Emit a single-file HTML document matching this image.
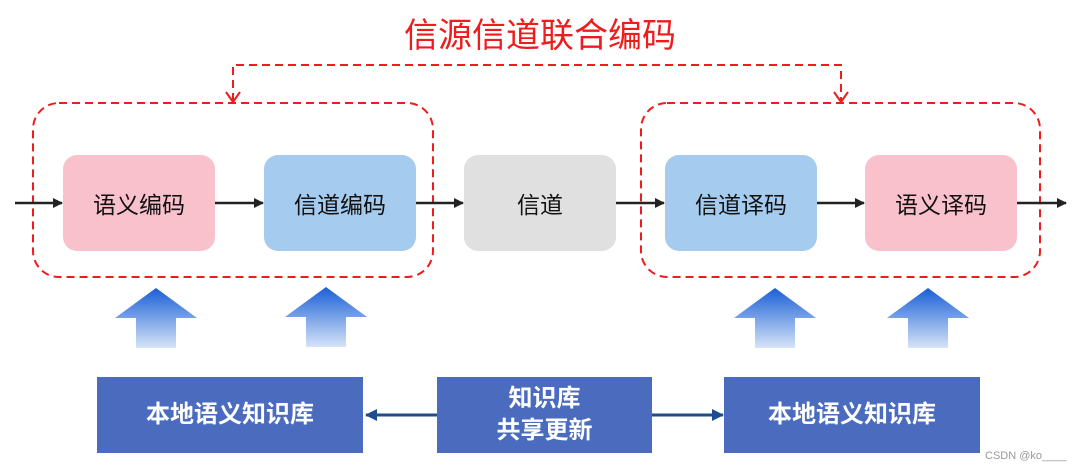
<!DOCTYPE html>
<html><head><meta charset="utf-8"><style>
body{margin:0;background:#fff;width:1080px;height:471px;overflow:hidden;position:relative;font-family:"Liberation Sans","Noto Sans CJK SC",sans-serif}
.b{position:absolute;top:155px;width:152px;height:96px;border-radius:14px;display:flex;align-items:center;justify-content:center;font-size:23px;color:#111}
.k{position:absolute;top:377px;height:76px;background:#4a6bbe;color:#fff;font-weight:bold;display:flex;align-items:center;justify-content:center;text-align:center;font-size:24px;line-height:32px}
</style></head><body>
<div style="position:absolute;left:0;top:8px;width:1080px;text-align:center;color:#ee1c1c;font-size:34px">信源信道联合编码</div>
<svg width="1080" height="471" style="position:absolute;left:0;top:0">
<defs>
<marker id="a" markerWidth="10" markerHeight="10" refX="9" refY="5" orient="auto" markerUnits="userSpaceOnUse"><path d="M0,0 L10,5 L0,10 Z" fill="#222"/></marker>
<marker id="bl" markerWidth="12" markerHeight="12" refX="11" refY="6" orient="auto" markerUnits="userSpaceOnUse"><path d="M0,0 L12,6 L0,12 Z" fill="#1f4b8f"/></marker>
<linearGradient id="g" x1="0" y1="0" x2="0" y2="1"><stop offset="0" stop-color="#1a5fd6"/><stop offset="1" stop-color="#d6e4f8"/></linearGradient>
</defs>
<g fill="none" stroke="#ee1c1c" stroke-width="2" stroke-dasharray="8,5">
<rect x="33" y="103" width="400" height="174" rx="26"/>
<rect x="641" y="103" width="399" height="174" rx="26"/>
<path d="M233,101 V65 H841 V101"/>
</g>
<g fill="none" stroke="#ee1c1c" stroke-width="2"><path d="M226,92 L233,102 L240,92"/><path d="M834,92 L841,102 L848,92"/></g>
<g stroke="#222" stroke-width="2.5">
<line x1="15" y1="203" x2="62" y2="203" marker-end="url(#a)"/>
<line x1="215" y1="203" x2="263" y2="203" marker-end="url(#a)"/>
<line x1="416" y1="203" x2="463" y2="203" marker-end="url(#a)"/>
<line x1="616" y1="203" x2="664" y2="203" marker-end="url(#a)"/>
<line x1="816" y1="203" x2="864" y2="203" marker-end="url(#a)"/>
<line x1="1017" y1="203" x2="1066" y2="203" marker-end="url(#a)"/>
</g>
<g fill="url(#g)">
<path d="M156,288 L197,318 L176,318 L176,348 L136,348 L136,318 L115,318 Z"/>
<path d="M326,287 L367,317 L346,317 L346,347 L306,347 L306,317 L285,317 Z"/>
<path d="M775,288 L816,318 L795,318 L795,348 L755,348 L755,318 L734,318 Z"/>
<path d="M928,288 L969,318 L948,318 L948,348 L908,348 L908,318 L887,318 Z"/>
</g>
<g stroke="#1f4b8f" stroke-width="3">
<line x1="437" y1="415" x2="366" y2="415" marker-end="url(#bl)"/>
<line x1="652" y1="415" x2="723" y2="415" marker-end="url(#bl)"/>
</g>
</svg>
<div class="b" style="left:63px;background:#f9c1cb">语义编码</div>
<div class="b" style="left:264px;background:#a5cbee">信道编码</div>
<div class="b" style="left:464px;background:#e0e0e0">信道</div>
<div class="b" style="left:665px;background:#a5cbee">信道译码</div>
<div class="b" style="left:865px;background:#f9c1cb">语义译码</div>
<div class="k" style="left:97px;width:266px">本地语义知识库</div>
<div class="k" style="left:437px;width:215px">知识库<br>共享更新</div>
<div class="k" style="left:724px;width:256px">本地语义知识库</div>
<div style="position:absolute;left:985px;top:450px;font-size:11px;color:#999">CSDN @ko____</div>
</body></html>
